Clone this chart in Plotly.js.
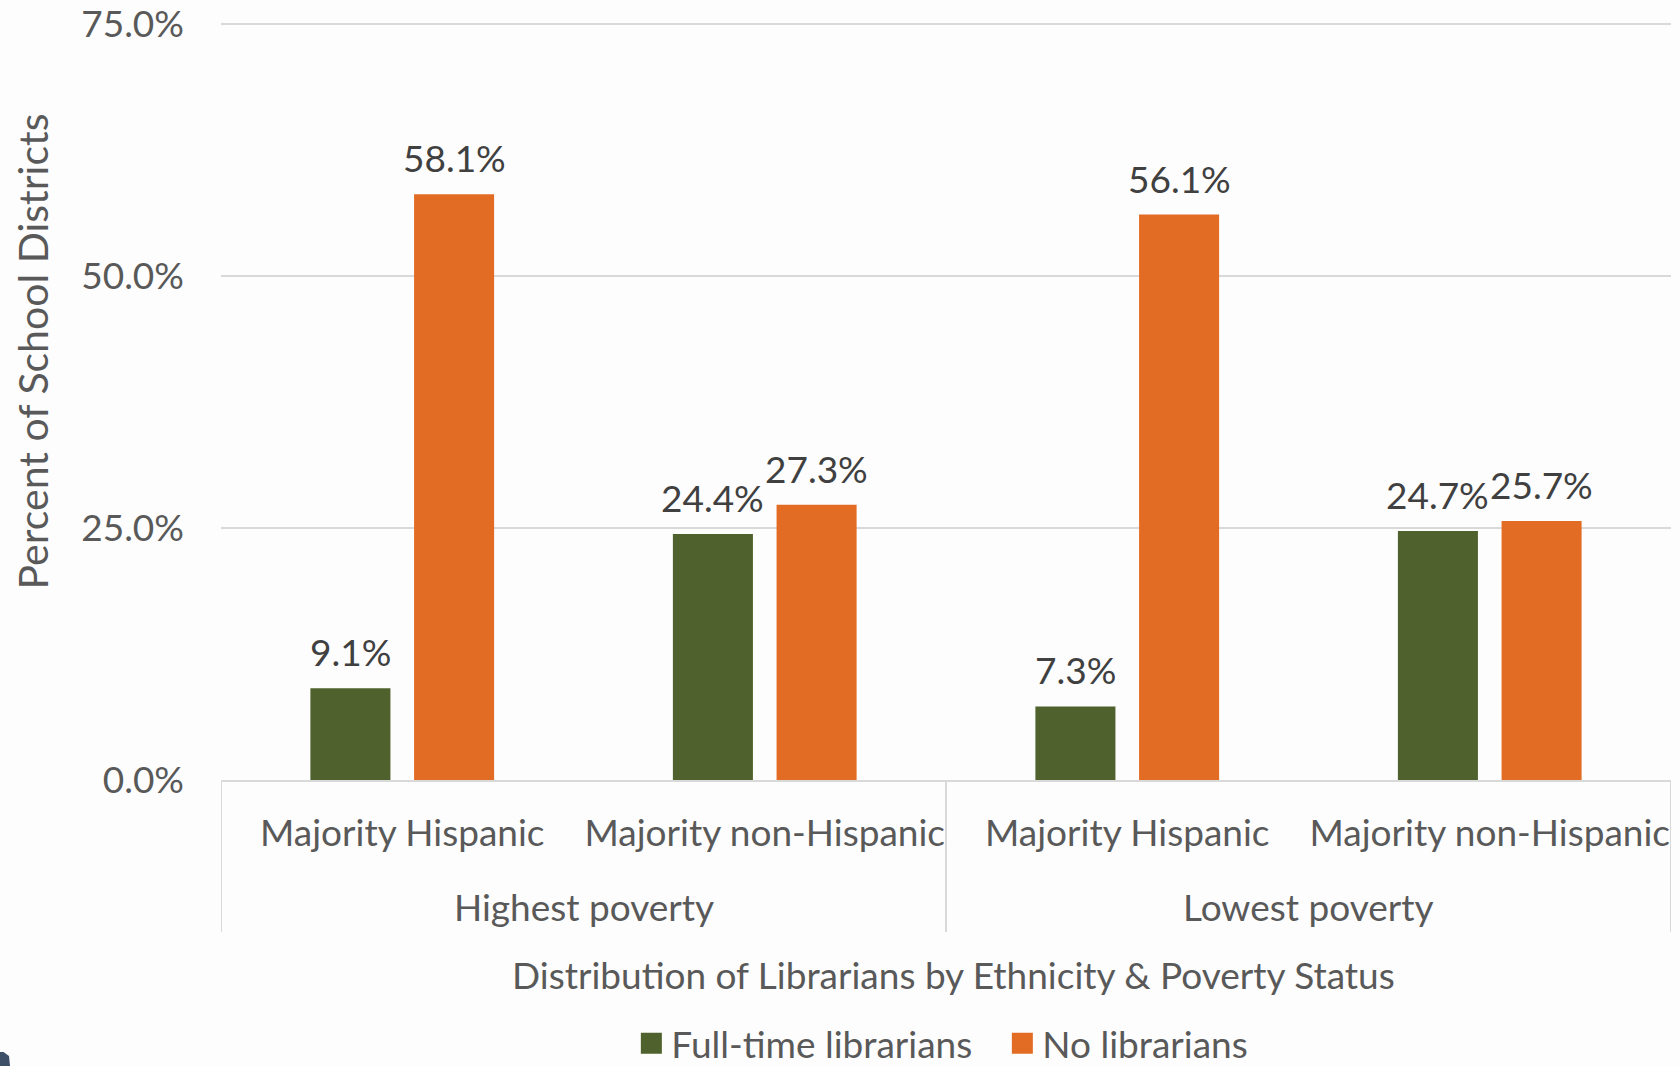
<!DOCTYPE html>
<html>
<head>
<meta charset="utf-8">
<script src="https://cdn.plot.ly/plotly-3.0.1.min.js"></script>
<style>
  html, body { margin: 0; padding: 0; background: #fdfdfd; }
  #chart { width: 1680px; height: 1066px; }
</style>
</head>
<body>
<div id="chart"></div>
<script>
// Outer grouping (poverty status) and inner grouping (ethnic majority)
const povertyGroups = ['Highest poverty', 'Highest poverty', 'Lowest poverty', 'Lowest poverty'];
const ethnicity = ['Majority Hispanic', 'Majority non-Hispanic', 'Majority Hispanic', 'Majority non-Hispanic'];

// Percent of school districts
const fullTimeLibrarians = [9.1, 24.4, 7.3, 24.7];
const noLibrarians = [58.1, 27.3, 56.1, 25.7];

const seriesNames = ['Full-time librarians', 'No librarians'];
const yTickValues = [0, 25, 50, 75];

const FONT = 'Lato, "Open Sans", sans-serif';
const TEXT_GREY = '#595959';
const LABEL_GREY = '#404040';
const LINE_GREY = '#d9d9d9';
const SERIES_COLORS = ['#4f622d', '#e36c25'];
const FS = 37;

const BARGAP = 0.428;
const BARGROUPGAP = 0.228;

// one slot per category, in axis units
const xIndex = ethnicity.map((_, i) => i);
const series = [fullTimeLibrarians, noLibrarians];

const data = [];
series.forEach((values, t) => {
  data.push({
    type: 'bar',
    name: seriesNames[t],
    legendgroup: seriesNames[t],
    showlegend: false,
    x: xIndex,
    y: values,
    marker: { color: SERIES_COLORS[t] },
    hoverinfo: 'skip'
  });
});
// legend swatches (larger squares than the default bar swatch)
series.forEach((values, t) => {
  data.push({
    type: 'scatter',
    mode: 'markers',
    name: seriesNames[t],
    legendgroup: seriesNames[t],
    x: [null],
    y: [null],
    marker: { symbol: 'square', size: 16, color: SERIES_COLORS[t],
              line: { color: SERIES_COLORS[t], width: 5 } },
    hoverinfo: 'skip'
  });
});

const annotations = [];

// value labels above every bar
const slot = (1 - BARGAP) / series.length;
series.forEach((values, t) => {
  const offset = (t - (series.length - 1) / 2) * slot;
  values.forEach((v, i) => {
    annotations.push({
      x: xIndex[i] + offset,
      y: v,
      xref: 'x', yref: 'y',
      text: v.toFixed(1) + '%',
      showarrow: false,
      xanchor: 'center',
      yanchor: 'bottom',
      yshift: 12,
      font: { family: FONT, size: FS, color: LABEL_GREY }
    });
  });
});

// outer category labels and dividers
const groupNames = [...new Set(povertyGroups)];
const shapes = [];
const boundaries = [];
groupNames.forEach((g) => {
  const idx = xIndex.filter((i) => povertyGroups[i] === g);
  const first = Math.min(...idx);
  const last = Math.max(...idx);
  annotations.push({
    x: (first + last) / 2,
    y: -0.1673,
    xref: 'x', yref: 'paper',
    text: g,
    showarrow: false,
    xanchor: 'center',
    yanchor: 'middle',
    font: { family: FONT, size: FS, color: TEXT_GREY }
  });
  boundaries.push(first - 0.5, last + 0.5);
});
[...new Set(boundaries)].forEach((b) => {
  shapes.push({
    type: 'line',
    xref: 'x', yref: 'paper',
    x0: b, x1: b, y0: 0, y1: -0.2003,
    line: { color: LINE_GREY, width: 2 }
  });
});

// axis titles
annotations.push({
  text: 'Distribution of Librarians by Ethnicity & Poverty Status',
  xref: 'paper', yref: 'paper',
  x: 0.5055, y: -0.2556,
  xanchor: 'center', yanchor: 'middle',
  showarrow: false,
  font: { family: FONT, size: FS, color: TEXT_GREY }
});
annotations.push({
  text: 'Percent of School Districts',
  xref: 'paper', yref: 'paper',
  x: -0.13, y: 0.564,
  xanchor: 'center', yanchor: 'middle',
  textangle: -90,
  showarrow: false,
  font: { family: FONT, size: 41, color: TEXT_GREY }
});

// small dark corner mark at the lower left edge
shapes.push({
  type: 'path',
  xref: 'paper', yref: 'paper',
  path: 'M -0.1524,-0.3584 L -0.1500,-0.3584 L -0.1462,-0.3637 L -0.1455,-0.3768 L -0.1524,-0.3768 Z',
  fillcolor: '#3d5068',
  line: { width: 0 }
});

const layout = {
  width: 1680,
  height: 1066,
  paper_bgcolor: '#fdfdfd',
  plot_bgcolor: '#fdfdfd',
  font: { family: FONT, size: FS, color: TEXT_GREY },
  margin: { l: 221, r: 9, t: 21, b: 286 },
  barmode: 'group',
  bargap: BARGAP,
  bargroupgap: BARGROUPGAP,
  showlegend: true,
  legend: {
    orientation: 'h',
    xref: 'paper',
    yref: 'container',
    x: 0.283,
    xanchor: 'left',
    y: 0.021,
    yanchor: 'middle',
    entrywidth: 326,
    font: { family: FONT, size: FS, color: TEXT_GREY },
    bgcolor: 'rgba(0,0,0,0)'
  },
  xaxis: {
    type: 'linear',
    range: [-0.5, xIndex.length - 0.5],
    tickmode: 'array',
    tickvals: xIndex,
    ticktext: ethnicity,
    showline: true,
    linecolor: LINE_GREY,
    linewidth: 2,
    showgrid: false,
    zeroline: false,
    ticks: '',
    ticklabelstandoff: 20,
    tickfont: { family: FONT, size: FS, color: TEXT_GREY },
    fixedrange: true
  },
  yaxis: {
    // a little headroom so the top gridline is not clipped at the plot edge
    range: [0, 75.3],
    tickmode: 'array',
    tickvals: yTickValues,
    ticktext: yTickValues.map((v) => v.toFixed(1) + '%'),
    ticklabeloverflow: 'allow',
    showgrid: true,
    gridcolor: LINE_GREY,
    gridwidth: 2,
    zeroline: false,
    showline: false,
    ticks: '',
    ticklabelstandoff: 36,
    tickfont: { family: FONT, size: FS, color: TEXT_GREY },
    fixedrange: true
  },
  annotations: annotations,
  shapes: shapes
};

Plotly.newPlot('chart', data, layout, { displayModeBar: false, staticPlot: true });
</script>
</body>
</html>
